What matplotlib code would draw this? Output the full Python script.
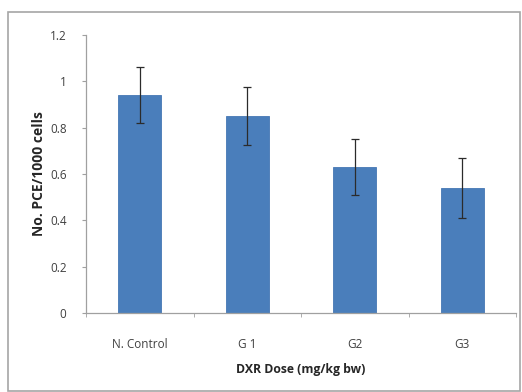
import matplotlib
matplotlib.use("Agg")
import matplotlib.pyplot as plt
from matplotlib.patches import Rectangle
import numpy as np

categories = ["N. Control", "G 1", "G2", "G3"]
values = [0.94, 0.85, 0.63, 0.54]
errors = [0.12, 0.125, 0.12, 0.13]
yticks = [0, 0.2, 0.4, 0.6, 0.8, 1.0, 1.2]
ytick_labels = ["0", "0.2", "0.4", "0.6", "0.8", "1", "1.2"]

plt.rcParams['font.family'] = ['Open Sans', 'DejaVu Sans']

fig = plt.figure(figsize=(5.22, 3.92), dpi=100)
W, H = 522, 392
# chart-area border
fig.patches.append(Rectangle((8 / W, 1 / H), 512 / W, (391 - 12) / H,
                             transform=fig.transFigure, fill=False,
                             edgecolor="#a6a6a6", linewidth=1.2))

ax = fig.add_axes([86 / W, (H - 313) / H, 430 / W, (313 - 35) / H])
x = np.arange(len(categories))
ax.bar(x, values, width=0.4, color="#4a7ebb", edgecolor="#4577b4", linewidth=0.6, zorder=2)
ax.errorbar(x, values, yerr=errors, fmt="none", ecolor="#2b2b2b",
            elinewidth=0.9, capsize=3, capthick=0.9, zorder=3)

ax.set_xlim(-0.5, len(categories) - 0.5)
ax.set_ylim(0, 1.2)
ax.set_yticks(yticks)
ax.set_yticklabels(ytick_labels, fontsize=8.5, color="#404040")
ax.set_xticks(x)
ax.set_xticklabels(categories, fontsize=8.5, color="#404040")
ax.tick_params(axis="x", length=0, pad=18)
ax.tick_params(axis="y", length=3, direction="out", color="#a0a0a0", pad=11)
# boundary ticks on x axis
ax.set_xticks(np.arange(-0.5, len(categories)), minor=True)
ax.tick_params(axis="x", which="minor", length=3, color="#a0a0a0")

for s in ["top", "right"]:
    ax.spines[s].set_visible(False)
for s in ["left", "bottom"]:
    ax.spines[s].set_color("#a0a0a0")
    ax.spines[s].set_linewidth(0.9)

ax.set_xlabel("DXR Dose (mg/kg bw)", fontsize=8.8, fontweight="bold", color="#262626", labelpad=9)
ax.set_ylabel("No. PCE/1000 cells", fontsize=10, fontweight="bold", color="#262626", labelpad=3)

fig.savefig("out.png", dpi=100)
